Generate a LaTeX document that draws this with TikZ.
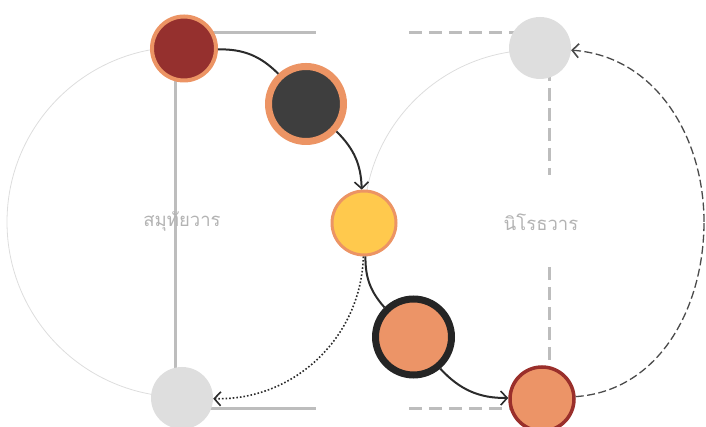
\documentclass[tikz,border=0pt]{standalone}
\usepackage{fontspec}
\newfontfamily\thaifont[Script=Thai]{Loma}
\usetikzlibrary{arrows.meta,backgrounds}
\definecolor{ornB}{HTML}{EC9464}
\definecolor{redF}{HTML}{95302E}
\definecolor{darkF}{HTML}{3E3E3E}
\definecolor{yelF}{HTML}{FFC94D}
\definecolor{ornF}{HTML}{EC9467}
\definecolor{blkB}{HTML}{252525}
\definecolor{redB}{HTML}{9A2F2B}
\definecolor{grayF}{HTML}{DEDEDE}
\definecolor{guideC}{HTML}{BDBDBD}
\definecolor{thinC}{HTML}{DDDDDD}
\definecolor{lineC}{HTML}{2B2B2B}
\definecolor{textC}{HTML}{B3B3B3}
\tikzset{
  dot/.style={circle, inner sep=0pt},
  tipA/.style={-{Straight Barb[length=6.5pt,width=14pt,line width=1.6pt]}},
  solidarc/.style={draw=lineC, line width=2pt},
  dotarc/.style={draw=lineC, line width=1.6pt, dotted},
  dasharc/.style={draw=lineC!85, line width=1.3pt, dash pattern=on 8pt off 3.5pt},
  guide/.style={draw=guideC, line width=3pt},
  dguide/.style={draw=guideC, line width=3pt, dash pattern=on 13pt off 7pt},
  thinarc/.style={draw=thinC, line width=0.8pt},
  lbl/.style={font=\thaifont\fontsize{18.5}{20}\selectfont, text=textC}
}
\begin{document}
\begin{tikzpicture}[x=1pt,y=1pt]
\useasboundingbox (0,0) rectangle (706,427);
\coordinate (Lc) at (182,205);
\coordinate (Rc) at (536,205);
% nodes
\node[dot, fill=redF, draw=ornB, line width=4pt, minimum size=64pt] (n1) at (184,378.5) {};
\node[dot, fill=darkF, draw=ornB, line width=7pt, minimum size=75pt] (n2) at (306,323) {};
\node[dot, fill=yelF, draw=ornB, line width=3pt, minimum size=64pt] (n3) at (364,204) {};
\node[dot, fill=ornF, draw=blkB, line width=7pt, minimum size=76pt] (n4) at (413.5,90) {};
\node[dot, fill=ornF, draw=redB, line width=3.5pt, minimum size=64pt] (n5) at (542,28) {};
\node[dot, fill=grayF, minimum size=62pt] (g1) at (540,379) {};
\node[dot, fill=grayF, minimum size=62pt] (g2) at (182,29) {};
\node[lbl] (t1) at (182,205) {สมุทัยวาร};
\node[lbl] (t2) at (541,205) {นิโรธวาร};
% free ends
\coordinate (vl) at (175,0);
\coordinate (tl) at (316,394);
\coordinate (bl) at (316,18);
\coordinate (tr) at (409,394);
\coordinate (br) at (409,18);
\coordinate (vr) at (549,0);
\coordinate (vr1) at (549,252);
\coordinate (vr2) at (549,160);
\coordinate (re) at (704,205);
\begin{pgfonlayer}{background}
  \draw[thinarc] (Lc) ++(90:175) arc[start angle=90, end angle=270, radius=175];
  \draw[thinarc] (Rc) ++(90:172) arc[start angle=90, end angle=180, radius=172];
  \draw[guide] (n1.center -| vl) -- (g2.center -| vl);
  \draw[guide] (n1.center |- tl) -- (tl);
  \draw[guide] (g2.center |- bl) -- (bl);
  \draw[dguide] (tr) -- (g1.center |- tr);
  \draw[dguide] (g1.center -| vr) -- (vr1);
  \draw[dguide] (vr2) -- (n5.center -| vr);
  \draw[dguide] (br) -- (n5.center |- br);
\end{pgfonlayer}
% connectors
\draw[solidarc] (n1) to[bend left=23] (n2);
\draw[solidarc, tipA] (n2) to[bend left=22] (n3);
\draw[dotarc, tipA] (n3) to[bend left=45] (g2);
\draw[solidarc] (n3) to[bend right=21] (n4);
\draw[solidarc, tipA] (n4) to[bend right=24] (n5);
\draw[dasharc] (n5) to[out=4, in=-90] (re);
\draw[dasharc, tipA] (re) to[out=90, in=-4] (g1);
\end{tikzpicture}
\end{document}
